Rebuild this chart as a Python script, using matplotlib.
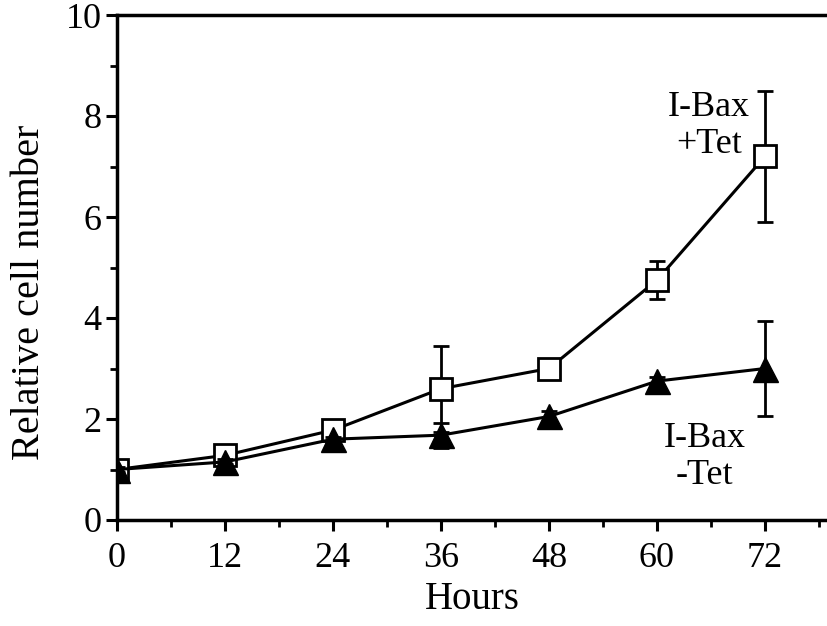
import matplotlib
matplotlib.use('Agg')
import matplotlib.pyplot as plt
from matplotlib.ticker import MultipleLocator

# data
hours = [0, 12, 24, 36, 48, 60, 72]
tet_plus = [1.0, 1.28, 1.78, 2.6, 3.0, 4.75, 7.2]
tet_plus_err = [0.05, 0.08, 0.2, 0.85, 0.15, 0.38, 1.3]
tet_minus = [1.0, 1.15, 1.6, 1.68, 2.05, 2.75, 3.0]
tet_minus_err = [0.05, 0.05, 0.05, 0.25, 0.1, 0.08, 0.95]

plt.rcParams['font.family'] = ['Liberation Serif', 'DejaVu Serif']

fig = plt.figure(figsize=(8.28, 6.26), dpi=100)
ax = fig.add_axes([117/828, 106/626, 711/828, 505/626])

ax.errorbar(hours, tet_plus, yerr=tet_plus_err, color='black', lw=2.2,
            marker='s', ms=16, mfc='white', mec='black', mew=2,
            capsize=6, elinewidth=2, capthick=2, zorder=3)
ax.errorbar(hours, tet_minus, yerr=tet_minus_err, color='black', lw=2.2,
            marker='^', ms=18, mfc='black', mec='black',
            capsize=6, elinewidth=2, capthick=2, zorder=4)

ax.text(65.8, 7.8, 'I-Bax\n+Tet', ha='center', va='center', fontsize=26, linespacing=1.15)
ax.text(65.3, 1.25, 'I-Bax\n-Tet', ha='center', va='center', fontsize=26, linespacing=1.15)

ax.set_xlim(0, 79)
ax.set_ylim(0, 10)
ax.xaxis.set_major_locator(MultipleLocator(12))
ax.xaxis.set_minor_locator(MultipleLocator(6))
ax.yaxis.set_major_locator(MultipleLocator(2))
ax.yaxis.set_minor_locator(MultipleLocator(1))
ax.tick_params(which='major', direction='out', length=8, width=2.2, labelsize=26)
ax.tick_params(which='minor', direction='out', length=5, width=2)
ax.tick_params(axis='x', pad=8)
ax.tick_params(axis='y', pad=3)

for side in ['left', 'bottom', 'top']:
    ax.spines[side].set_linewidth(2.5)
ax.spines['right'].set_visible(False)

ax.set_xlabel('Hours', fontsize=28, labelpad=4)
ax.set_ylabel('Relative cell number', fontsize=29)
ax.yaxis.set_label_coords(-0.097, 0.45)

fig.savefig('out.png', dpi=100)
